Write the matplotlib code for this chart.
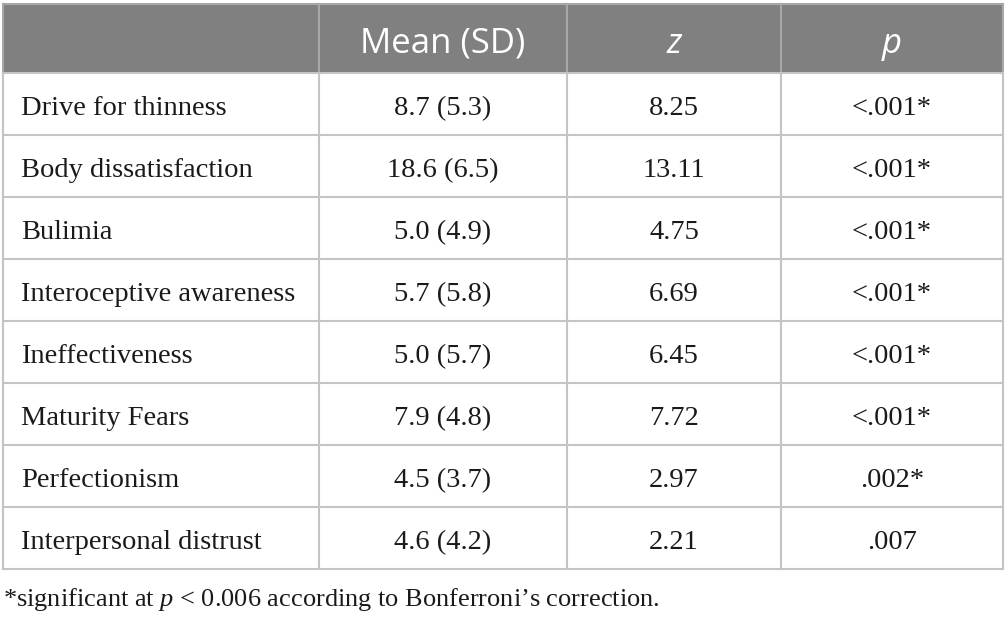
import matplotlib
matplotlib.use("Agg")
import matplotlib.pyplot as plt
from matplotlib.patches import Rectangle

plt.rcParams['mathtext.fontset'] = 'custom'
plt.rcParams['mathtext.rm'] = 'Liberation Serif'
plt.rcParams['mathtext.it'] = 'Liberation Serif:italic'

scales = ["Drive for thinness", "Body dissatisfaction", "Bulimia",
          "Interoceptive awareness", "Ineffectiveness", "Maturity Fears",
          "Perfectionism", "Interpersonal distrust"]
mean_sd = ["8.7 (5.3)", "18.6 (6.5)", "5.0 (4.9)", "5.7 (5.8)",
           "5.0 (5.7)", "7.9 (4.8)", "4.5 (3.7)", "4.6 (4.2)"]
z_vals = ["8.25", "13.11", "4.75", "6.69", "6.45", "7.72", "2.97", "2.21"]
p_vals = ["<.001*", "<.001*", "<.001*", "<.001*", "<.001*", "<.001*",
          ".002*", ".007"]
headers = ["", "Mean (SD)", "z", "p"]
footnote = "*significant at $p$ < 0.006 according to Bonferroni\u2019s correction."

fig = plt.figure(figsize=(10.05, 6.23), dpi=100)
ax = fig.add_axes([0, 0, 1, 1])
ax.set_xlim(0, 1005)
ax.set_ylim(623, 0)
ax.axis('off')

col_edges = [3, 319, 567, 781, 1003]
top, head_h, row_h = 4, 69, 62
grid = '#c4c4c4'
txt = '#1a1a1a'

# header
ax.add_patch(Rectangle((col_edges[0], top), col_edges[-1] - col_edges[0], head_h,
                       facecolor='#808080', edgecolor='none'))
for j, h in enumerate(headers):
    if not h:
        continue
    cx = (col_edges[j] + col_edges[j + 1]) / 2
    ax.text(cx, top + 49, h, ha='center', va='baseline', color='white',
            fontsize=25, family='Open Sans',
            style='italic' if j > 1 else 'normal')

# body
y0 = top + head_h
for i in range(len(scales)):
    base = y0 + row_h * i + 42
    ax.text(col_edges[0] + 18, base, scales[i], ha='left', va='baseline',
            fontsize=20.5, family='Liberation Serif', color=txt)
    for j, v in enumerate([mean_sd[i], z_vals[i], p_vals[i]], start=1):
        cx = (col_edges[j] + col_edges[j + 1]) / 2
        ax.text(cx, base, v, ha='center', va='baseline',
                fontsize=20.5, family='Liberation Serif', color=txt)

bottom = y0 + row_h * len(scales)
for k in range(len(scales) + 1):
    y = y0 + row_h * k
    ax.plot([col_edges[0], col_edges[-1]], [y, y], color=grid, lw=1.5)
ax.plot([col_edges[0], col_edges[-1]], [top, top], color='#a8a8a8', lw=1.5)
for j, x in enumerate(col_edges):
    ax.plot([x, x], [top, y0], color='#a8a8a8', lw=1.5)
    ax.plot([x, x], [y0, bottom], color=grid, lw=1.5)

ax.text(3, 606, footnote, ha='left', va='baseline',
        fontsize=19, family='Liberation Serif', color=txt)

fig.savefig('out.png', dpi=100)
